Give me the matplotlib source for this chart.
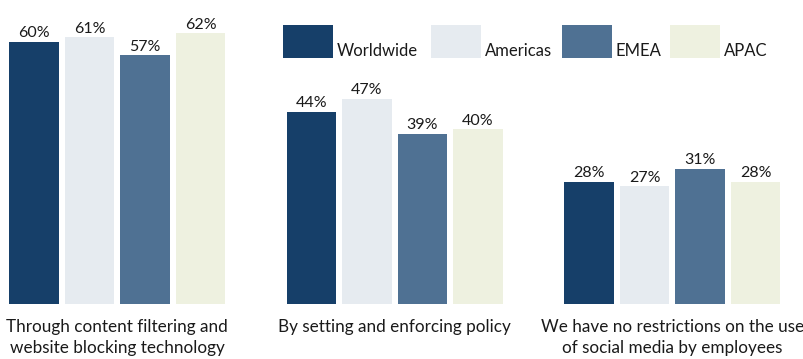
import matplotlib.pyplot as plt
from matplotlib.patches import Rectangle

plt.rcParams['font.family'] = ['Lato', 'DejaVu Sans']

categories = ["Through content filtering and\nwebsite blocking technology",
              "By setting and enforcing policy",
              "We have no restrictions on the use\nof social media by employees"]
regions = ["Worldwide", "Americas", "EMEA", "APAC"]
worldwide = [60, 44, 28]
americas = [61, 47, 27]
emea = [57, 39, 31]
apac = [62, 40, 28]
colors = ["#163f69", "#e6ebf0", "#4f7193", "#eef1e0"]

series = [worldwide, americas, emea, apac]

W, H = 804, 359
fig = plt.figure(figsize=(W / 100, H / 100), dpi=100)
ax = fig.add_axes([0, 0, 1, 1])
ax.axis("off")

pitch = 55.5   # px per bar slot
px_per_pct = 4.37
base = 55      # px from bottom
ax.set_xlim(-34 / pitch, (W - 34) / pitch)
ax.set_ylim(-base / px_per_pct, (H - base) / px_per_pct)

for i, vals in enumerate(series):
    xs = [g * 5 + i for g in range(len(categories))]
    ax.bar(xs, vals, width=0.9, color=colors[i], linewidth=0)
    for x, v in zip(xs, vals):
        ax.annotate(f"{v}%", (x, v), xytext=(0, 1), textcoords="offset points",
                    ha="center", va="bottom", fontsize=11.5, color="#1a1a1a")

for g, cat in enumerate(categories):
    ax.annotate(cat, (g * 5 + 1.5, 0), xytext=(0, -11), textcoords="offset points",
                ha="center", va="top", fontsize=12.3, color="#1a1a1a",
                linespacing=1.4)

# legend drawn in pixel coordinates
legend_x = [283, 431, 562, 670]
for lx, name, c in zip(legend_x, regions, colors):
    fig.patches.append(Rectangle((lx / W, 1 - 58 / H), 50 / W, 33 / H,
                                 transform=fig.transFigure, color=c, lw=0))
    fig.text((lx + 54) / W, 1 - 59 / H, name, ha="left", va="bottom",
             fontsize=12, color="#1a1a1a")

fig.savefig("out.png", dpi=100)
